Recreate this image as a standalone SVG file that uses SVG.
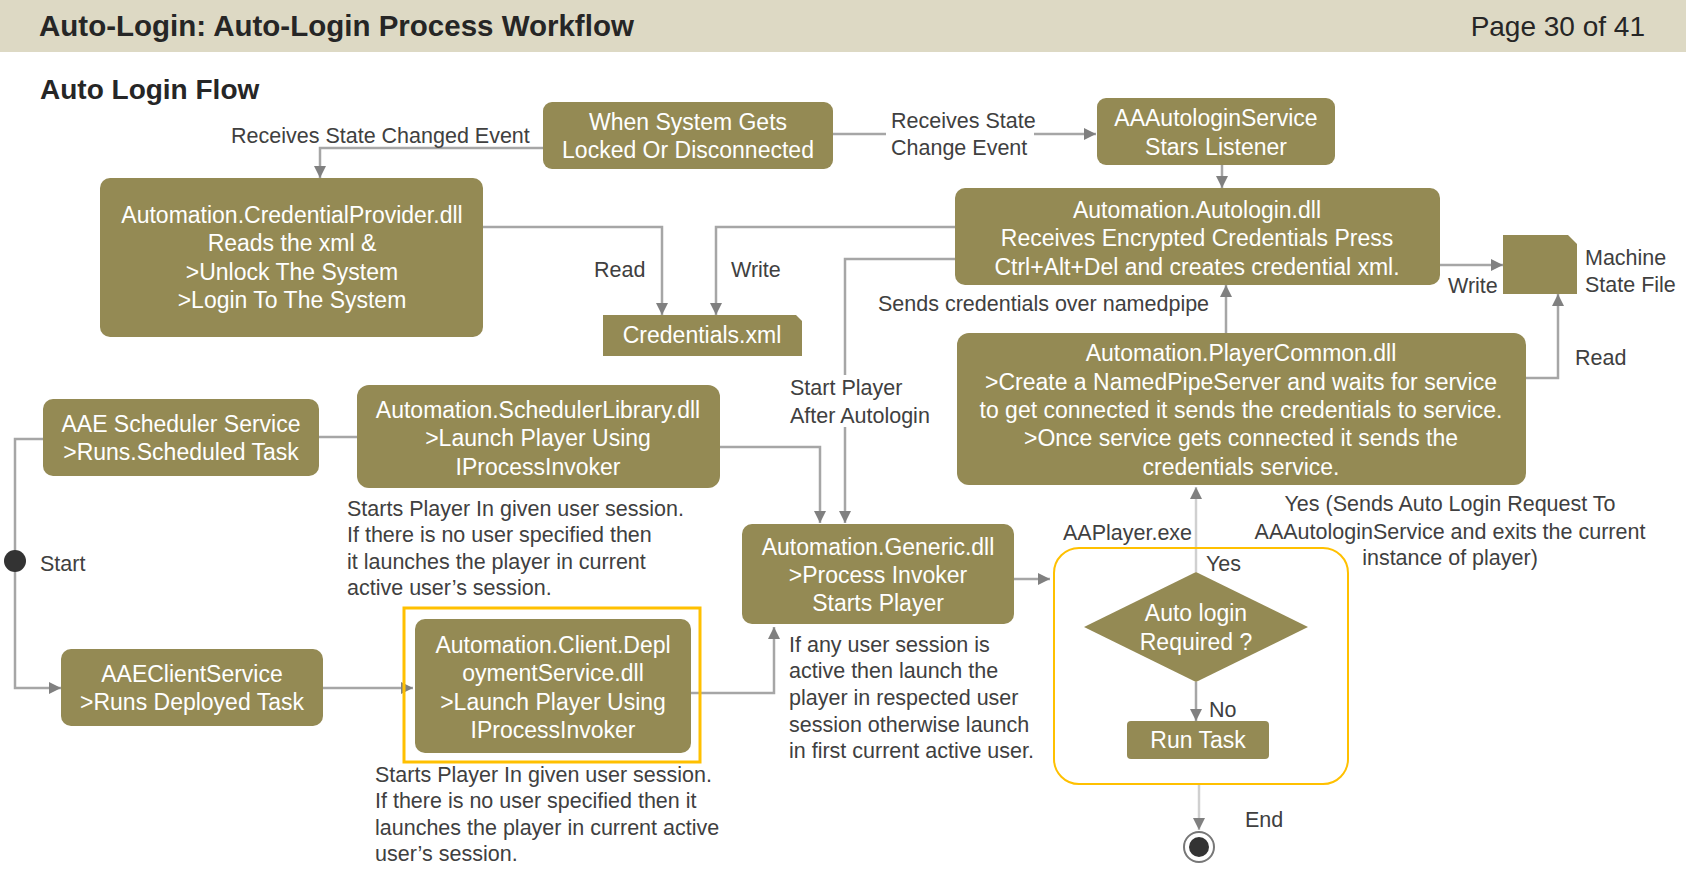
<svg xmlns="http://www.w3.org/2000/svg" width="1686" height="871" viewBox="0 0 1686 871">
<style>
.nd{fill:#948a54;}
.nt{font-family:"Liberation Sans",Arial,sans-serif;font-size:23px;fill:#ffffff;text-anchor:middle;}
.lb{font-family:"Liberation Sans",Arial,sans-serif;font-size:21.5px;fill:#404040;}
.ln{fill:none;stroke:#a6a6a6;stroke-width:2.5;}
.lnl{fill:none;stroke:#d0d0d0;stroke-width:2.5;}
.hl{fill:none;stroke:#ffc000;}
</style>
<defs>
<marker id="ah" markerUnits="userSpaceOnUse" markerWidth="14" markerHeight="14" refX="12" refY="6" orient="auto">
<path d="M0,0 L12,6 L0,12 z" fill="#808080"/>
</marker>
</defs>
<rect x="0" y="0" width="1686" height="52" fill="#ddd9c4"/>
<text x="39" y="36" font-family="Liberation Sans,Arial,sans-serif" font-size="29.5" font-weight="bold" fill="#262626">Auto-Login: Auto-Login Process Workflow</text>
<text x="1645" y="36" font-family="Liberation Sans,Arial,sans-serif" font-size="28" fill="#262626" text-anchor="end">Page 30 of 41</text>
<text x="40" y="99" font-family="Liberation Sans,Arial,sans-serif" font-size="28" font-weight="bold" fill="#262626">Auto Login Flow</text>

<g id="connectors">
<path class="ln" d="M543,148 L320,148 L320,178" marker-end="url(#ah)"/>
<path class="ln" d="M833,134 L886,134 M1034,134 L1096,134" marker-end="url(#ah)"/>
<path class="ln" d="M1222,165 L1222,188" marker-end="url(#ah)"/>
<path class="ln" d="M483,227 L662,227 L662,315" marker-end="url(#ah)"/>
<path class="ln" d="M955,227 L716,227 L716,315" marker-end="url(#ah)"/>
<path class="ln" d="M955,259 L845,259 L845,375 M845,427 L845,523" marker-end="url(#ah)"/>
<path class="ln" d="M1440,265 L1503,265" marker-end="url(#ah)"/>
<path class="ln" d="M1226,333 L1226,285" marker-end="url(#ah)"/>
<path class="ln" d="M1526,378 L1558,378 L1558,294" marker-end="url(#ah)"/>
<path class="ln" d="M43,439 L15,439 L15,688 L61,688" marker-end="url(#ah)"/>
<path class="ln" d="M319,437 L357,437"/>
<path class="ln" d="M720,447 L820,447 L820,523" marker-end="url(#ah)"/>
<path class="ln" d="M323,688 L413,688" marker-end="url(#ah)"/>
<path class="ln" d="M691,693 L774,693 L774,627" marker-end="url(#ah)"/>
<path class="ln" d="M1014,579 L1050,579" marker-end="url(#ah)"/>
<path class="lnl" d="M1196,572 L1196,487" marker-end="url(#ah)"/>
<path class="ln" d="M1196,682 L1196,721" marker-end="url(#ah)"/>
<path class="lnl" d="M1199,784 L1199,830" marker-end="url(#ah)"/>
</g>

<g id="labels">
<text class="lb" x="231" y="143">Receives State Changed Event</text>
<text class="lb" x="891" y="128">Receives State</text>
<text class="lb" x="891" y="155">Change Event</text>
<text class="lb" x="594" y="277">Read</text>
<text class="lb" x="731" y="277">Write</text>
<text class="lb" x="1448" y="293">Write</text>
<text class="lb" x="1585" y="265">Machine</text>
<text class="lb" x="1585" y="292">State File</text>
<text class="lb" x="878" y="311">Sends credentials over namedpipe</text>
<text class="lb" x="1575" y="365">Read</text>
<text class="lb" x="790" y="395">Start Player</text>
<text class="lb" x="790" y="423">After Autologin</text>
<text class="lb" x="40" y="571">Start</text>
<text class="lb" x="347" y="516">Starts Player In given user session.</text>
<text class="lb" x="347" y="542">If there is no user specified then</text>
<text class="lb" x="347" y="569">it launches the player in current</text>
<text class="lb" x="347" y="595">active user’s session.</text>
<text class="lb" x="375" y="782">Starts Player In given user session.</text>
<text class="lb" x="375" y="808">If there is no user specified then it</text>
<text class="lb" x="375" y="835">launches the player in current active</text>
<text class="lb" x="375" y="861">user’s session.</text>
<text class="lb" x="789" y="652">If any user session is</text>
<text class="lb" x="789" y="678">active then launch the</text>
<text class="lb" x="789" y="705">player in respected user</text>
<text class="lb" x="789" y="732">session otherwise launch</text>
<text class="lb" x="789" y="758">in first current active user.</text>
<text class="lb" x="1063" y="540">AAPlayer.exe</text>
<text class="lb" x="1206" y="571">Yes</text>
<text class="lb" x="1450" y="511" text-anchor="middle">Yes (Sends Auto Login Request To</text>
<text class="lb" x="1450" y="539" text-anchor="middle">AAAutologinService and exits the current</text>
<text class="lb" x="1450" y="565" text-anchor="middle">instance of player)</text>
<text class="lb" x="1209" y="717">No</text>
<text class="lb" x="1245" y="827">End</text>
</g>

<g id="n-when">
<rect class="nd" x="543" y="102" width="290" height="67" rx="9"/>
<text class="nt" x="688" y="130">When System Gets</text>
<text class="nt" x="688" y="158">Locked Or Disconnected</text>
</g>
<g id="n-aaautologin">
<rect class="nd" x="1097" y="98" width="238" height="67" rx="9"/>
<text class="nt" x="1216" y="126">AAAutologinService</text>
<text class="nt" x="1216" y="155">Stars Listener</text>
</g>
<g id="n-credprovider">
<rect class="nd" x="100" y="178" width="383" height="159" rx="10"/>
<text class="nt" x="292" y="223">Automation.CredentialProvider.dll</text>
<text class="nt" x="292" y="251">Reads the xml &amp;</text>
<text class="nt" x="292" y="280">&gt;Unlock The System</text>
<text class="nt" x="292" y="308">&gt;Login To The System</text>
</g>
<g id="n-credxml">
<path class="nd" d="M603,315 L796,315 L802,321 L802,356 L603,356 z"/>
<text class="nt" x="702" y="343">Credentials.xml</text>
</g>
<g id="n-autologin">
<rect class="nd" x="955" y="188" width="485" height="97" rx="10"/>
<text class="nt" x="1197" y="218">Automation.Autologin.dll</text>
<text class="nt" x="1197" y="246">Receives Encrypted Credentials Press</text>
<text class="nt" x="1197" y="275">Ctrl+Alt+Del and creates credential xml.</text>
</g>
<g id="n-machinestate">
<path class="nd" d="M1503,235 L1568,235 L1577,244 L1577,294 L1503,294 z"/>
</g>
<g id="n-playercommon">
<rect class="nd" x="957" y="333" width="569" height="152" rx="12"/>
<text class="nt" x="1241" y="361">Automation.PlayerCommon.dll</text>
<text class="nt" x="1241" y="390">&gt;Create a NamedPipeServer and waits for service</text>
<text class="nt" x="1241" y="418">to get connected it sends the credentials to service.</text>
<text class="nt" x="1241" y="446">&gt;Once service gets connected it sends the</text>
<text class="nt" x="1241" y="475">credentials service.</text>
</g>
<g id="n-scheduler">
<rect class="nd" x="43" y="399" width="276" height="77" rx="10"/>
<text class="nt" x="181" y="432">AAE Scheduler Service</text>
<text class="nt" x="181" y="460">&gt;Runs.Scheduled Task</text>
</g>
<g id="n-schedlib">
<rect class="nd" x="357" y="385" width="363" height="103" rx="12"/>
<text class="nt" x="538" y="418">Automation.SchedulerLibrary.dll</text>
<text class="nt" x="538" y="446">&gt;Launch Player Using</text>
<text class="nt" x="538" y="475">IProcessInvoker</text>
</g>
<g id="n-client">
<rect class="nd" x="61" y="649" width="262" height="77" rx="10"/>
<text class="nt" x="192" y="682">AAEClientService</text>
<text class="nt" x="192" y="710">&gt;Runs Deployed Task</text>
</g>
<g id="n-deploy">
<rect class="hl" x="404" y="608" width="296" height="154" stroke-width="3"/>
<rect class="nd" x="415" y="619" width="276" height="134" rx="10"/>
<text class="nt" x="553" y="653">Automation.Client.Depl</text>
<text class="nt" x="553" y="681">oymentService.dll</text>
<text class="nt" x="553" y="710">&gt;Launch Player Using</text>
<text class="nt" x="553" y="738">IProcessInvoker</text>
</g>
<g id="n-generic">
<rect class="nd" x="742" y="524" width="272" height="100" rx="10"/>
<text class="nt" x="878" y="555">Automation.Generic.dll</text>
<text class="nt" x="878" y="583">&gt;Process Invoker</text>
<text class="nt" x="878" y="611">Starts Player</text>
</g>
<g id="n-aaplayer">
<rect class="hl" x="1054" y="548" width="294" height="236" rx="25" stroke-width="2"/>
</g>
<g id="n-decision">
<path class="nd" d="M1196,572 L1308,627 L1196,682 L1084,627 z"/>
<text class="nt" x="1196" y="621">Auto login</text>
<text class="nt" x="1196" y="650">Required ?</text>
</g>
<g id="n-runtask">
<rect class="nd" x="1127" y="721" width="142" height="38" rx="4"/>
<text class="nt" x="1198" y="748">Run Task</text>
</g>
<g id="n-start">
<circle cx="15" cy="561" r="11" fill="#333333"/>
</g>
<g id="n-end">
<circle cx="1199" cy="847" r="15" fill="#ffffff" stroke="#777777" stroke-width="2"/>
<circle cx="1199" cy="847" r="10" fill="#333333"/>
</g>
</svg>
